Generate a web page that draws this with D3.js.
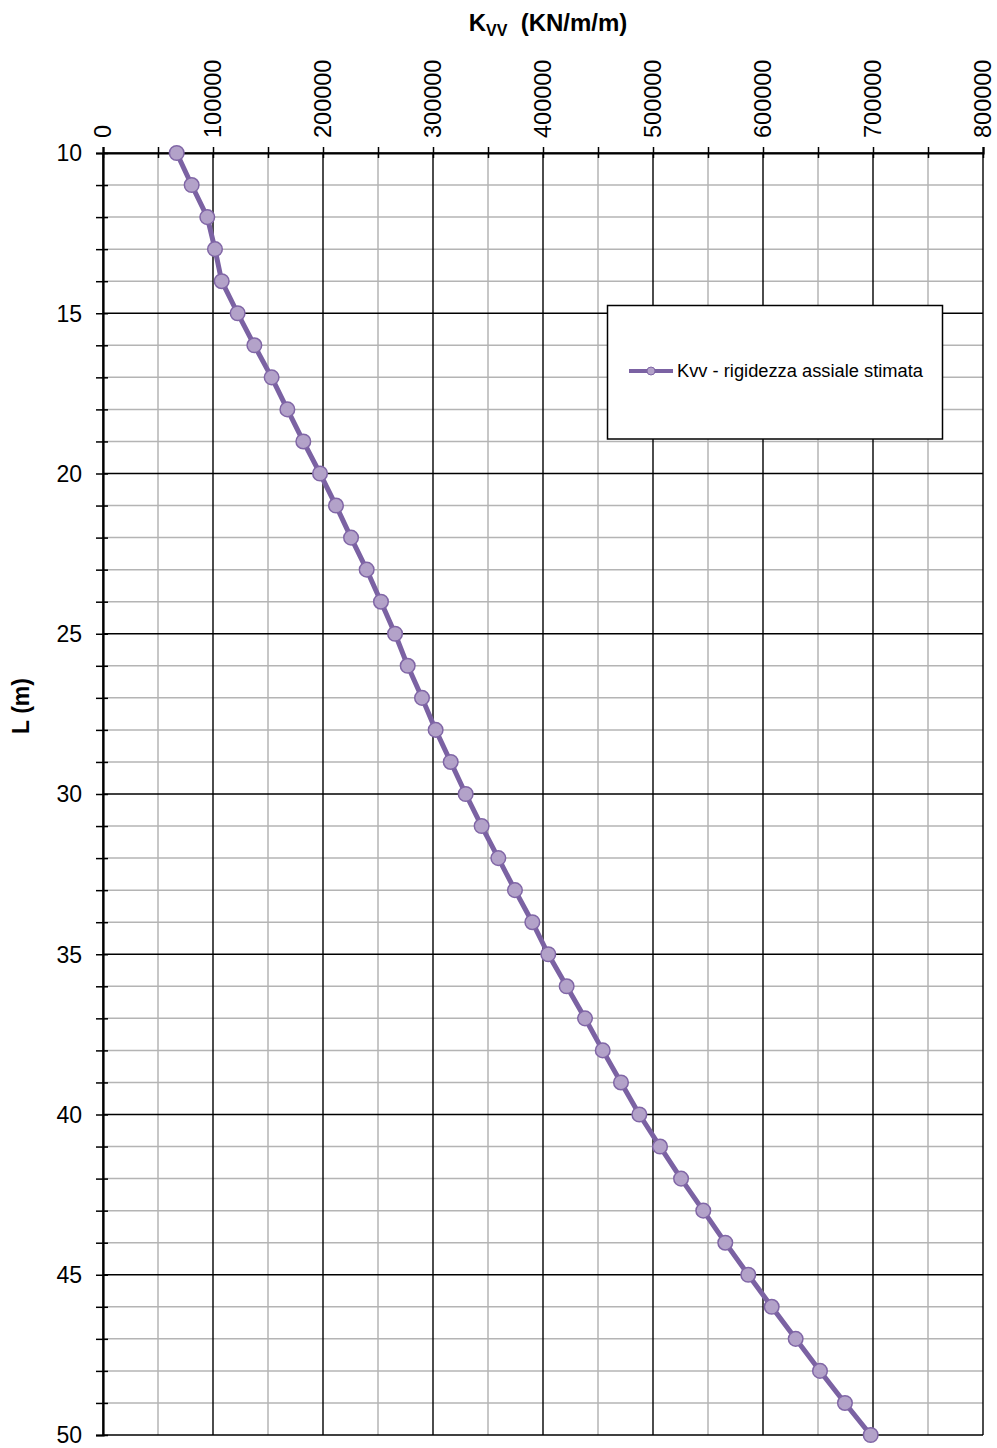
<!DOCTYPE html>
<html>
<head>
<meta charset="utf-8">
<script src="https://cdn.jsdelivr.net/npm/d3@7"></script>
<style>
  html, body { margin: 0; padding: 0; background: #fff; }
  svg { display: block; font-family: "Liberation Sans", Arial, sans-serif; }
</style>
</head>
<body>
<svg id="chart" width="997" height="1448"></svg>
<script>
// ---- data ----
const depths = [10,11,12,13,14,15,16,17,18,19,20,21,22,23,24,25,26,27,28,29,30,
                31,32,33,34,35,36,37,38,39,40,41,42,43,44,45,46,47,48,49,50];
const kvvValues = [67000,80600,94800,101800,107900,122400,137600,153300,167600,182100,197300,
                   211800,225500,239700,252700,265500,277000,290000,302400,316100,329700,
                   344200,359400,374500,390300,404800,421500,438200,454300,470900,487600,
                   506400,525500,545700,565700,586600,607900,629700,651800,674500,697900];
const xTickLabels = ["0","100000","200000","300000","400000","500000","600000","700000","800000"];
const yTickLabels = ["10","15","20","25","30","35","40","45","50"];
const seriesName = "Kvv - rigidezza assiale stimata";
const yAxisTitle = "L (m)";

// ---- layout ----
const pL = 103, pR = 983, pT = 153, pB = 1435;
const svg = d3.select("#chart");
const x = d3.scaleLinear().domain([0, 800000]).range([pL, pR]);
const y = d3.scaleLinear().domain([10, 50]).range([pT, pB]);

const g = svg.append("g");

// minor grid
const xMinor = d3.range(50000, 800000, 100000);
const yMinor = d3.range(10, 51, 1).filter(v => v % 5 !== 0);
g.selectAll("line.xminor").data(xMinor).enter().append("line")
  .attr("x1", d => x(d)).attr("x2", d => x(d)).attr("y1", pT).attr("y2", pB)
  .attr("stroke", "#b4b4b4").attr("stroke-width", 1.5);
g.selectAll("line.yminor").data(yMinor).enter().append("line")
  .attr("x1", pL).attr("x2", pR).attr("y1", d => y(d)).attr("y2", d => y(d))
  .attr("stroke", "#b4b4b4").attr("stroke-width", 1.5);

// major grid
const xMajor = xTickLabels.map(Number);
const yMajor = yTickLabels.map(Number);
g.selectAll("line.xmajor").data(xMajor).enter().append("line")
  .attr("x1", d => x(d)).attr("x2", d => x(d)).attr("y1", pT).attr("y2", pB)
  .attr("stroke", "#000").attr("stroke-width", 1.4);
g.selectAll("line.ymajor").data(yMajor).enter().append("line")
  .attr("x1", pL).attr("x2", pR).attr("y1", d => y(d)).attr("y2", d => y(d))
  .attr("stroke", "#000").attr("stroke-width", 1.4);

// axes (top and left) with crossing ticks
const xAxis = d3.axisTop(x).tickValues(d3.range(0, 800001, 50000)).tickSize(6).tickFormat("");
const xAx = svg.append("g").attr("transform", `translate(0,${pT})`).call(xAxis);
xAx.select(".domain").attr("stroke", "#000").attr("stroke-width", 2.2);
xAx.selectAll(".tick line").attr("y2", -6).attr("y1", 5).attr("stroke-width", 1.5);

const yAxis = d3.axisLeft(y).tickValues(d3.range(10, 51, 1)).tickSize(7).tickFormat("");
const yAx = svg.append("g").attr("transform", `translate(${pL},0)`).call(yAxis);
yAx.select(".domain").attr("stroke", "#000").attr("stroke-width", 2.2);
yAx.selectAll(".tick line").attr("x2", -7).attr("x1", 5).attr("stroke-width", 1.5);

// tick labels
svg.selectAll("text.xlab").data(xTickLabels).enter().append("text")
  .attr("transform", d => `translate(${x(+d)},138) rotate(-90)`)
  .attr("dy", "0.36em").attr("text-anchor", "start")
  .attr("font-size", 23.5).attr("fill", "#000").text(d => d);

svg.selectAll("text.ylab").data(yTickLabels).enter().append("text")
  .attr("x", 82).attr("y", d => y(+d)).attr("dy", "0.36em").attr("text-anchor", "end")
  .attr("font-size", 23).attr("fill", "#000").text(d => d);

// axis titles
const title = svg.append("text").attr("x", 548).attr("y", 31).attr("text-anchor", "middle")
  .attr("font-size", 24).attr("font-weight", "bold").attr("fill", "#000")
  .attr("xml:space", "preserve");
title.append("tspan").text("K");
title.append("tspan").attr("font-size", 16).attr("dy", 5).text("VV");
title.append("tspan").attr("dy", -5).text("  (KN/m/m)");

svg.append("text").attr("transform", "translate(29,706) rotate(-90)")
  .attr("text-anchor", "middle").attr("font-size", 23).attr("font-weight", "bold")
  .attr("fill", "#000").text(yAxisTitle);

// series
const pts = depths.map((d, i) => ({ L: d, k: kvvValues[i] }));
const line = d3.line().x(d => x(d.k)).y(d => y(d.L));
svg.append("path").datum(pts).attr("d", line).attr("fill", "none")
  .attr("stroke", "#7b62a3").attr("stroke-width", 5).attr("stroke-linejoin", "round");
svg.selectAll("circle.pt").data(pts).enter().append("circle")
  .attr("cx", d => x(d.k)).attr("cy", d => y(d.L)).attr("r", 7.3)
  .attr("fill", "#b3a2c9").attr("stroke", "#8066a6").attr("stroke-width", 1.5);

// legend
const lg = svg.append("g");
lg.append("rect").attr("x", 607.5).attr("y", 305.5).attr("width", 335).attr("height", 133.5)
  .attr("fill", "#fff").attr("stroke", "#000").attr("stroke-width", 1.5);
lg.append("line").attr("x1", 629).attr("x2", 673).attr("y1", 371).attr("y2", 371)
  .attr("stroke", "#7b62a3").attr("stroke-width", 4);
lg.append("circle").attr("cx", 651).attr("cy", 371).attr("r", 4)
  .attr("fill", "#b3a2c9").attr("stroke", "#8066a6").attr("stroke-width", 1);
lg.append("text").attr("x", 677).attr("y", 371).attr("dy", "0.36em")
  .attr("font-size", 17.5).attr("fill", "#000")
  .attr("textLength", 246).attr("lengthAdjust", "spacingAndGlyphs").text(seriesName);
</script>
</body>
</html>
